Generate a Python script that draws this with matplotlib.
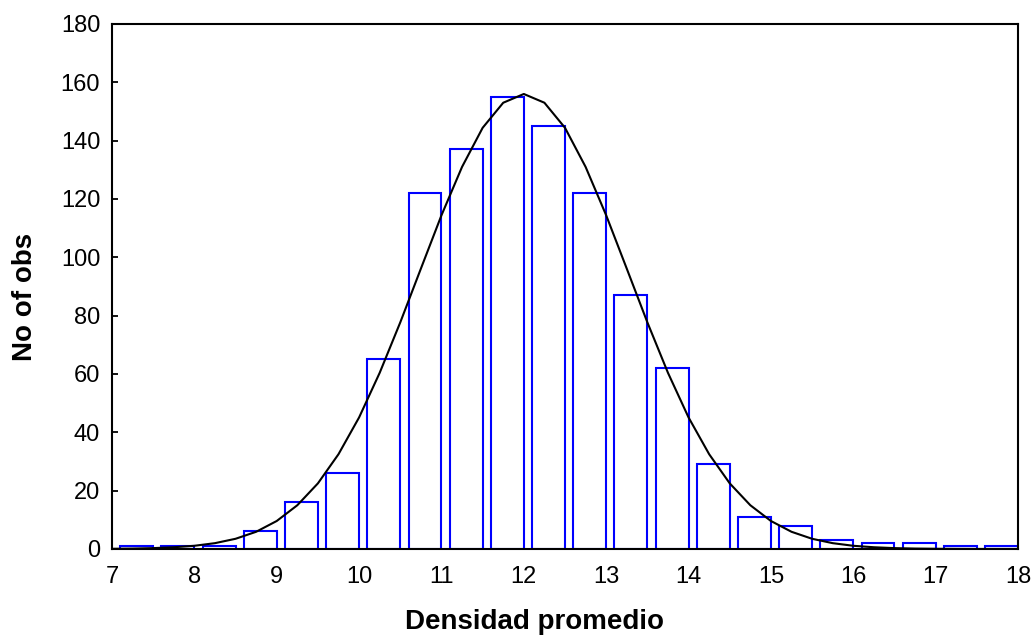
import numpy as np
import matplotlib.pyplot as plt

plt.rcParams['font.family'] = ['Liberation Sans', 'DejaVu Sans']

# Histogram bins (lower edges, width 0.5) and counts
bin_start = [7.0, 7.5, 8.0, 8.5, 9.0, 9.5, 10.0, 10.5, 11.0, 11.5, 12.0,
             12.5, 13.0, 13.5, 14.0, 14.5, 15.0, 15.5, 16.0, 16.5, 17.0, 17.5]
counts = [1, 1, 1, 6, 16, 26, 65, 122, 137, 155, 145,
          122, 87, 62, 29, 11, 8, 3, 2, 2, 1, 1]

# Fitted normal curve
curve_x = [7.0, 7.25, 7.5, 7.75, 8.0, 8.25, 8.5, 8.75, 9.0, 9.25, 9.5, 9.75,
           10.0, 10.25, 10.5, 10.75, 11.0, 11.25, 11.5, 11.75, 12.0, 12.25,
           12.5, 12.75, 13.0, 13.25, 13.5, 13.75, 14.0, 14.25, 14.5, 14.75,
           15.0, 15.25, 15.5, 15.75, 16.0, 16.25, 16.5, 16.75, 17.0, 17.25,
           17.5, 17.75, 18.0]
curve_y = [0.07, 0.14, 0.3, 0.6, 1.1, 2.0, 3.5, 5.9, 9.6, 15.0, 22.5, 32.5,
           45.1, 60.4, 77.7, 96.1, 114.4, 131.0, 144.4, 153.0, 156.0, 153.0,
           144.4, 131.0, 114.4, 96.1, 77.7, 60.4, 45.1, 32.5, 22.5, 15.0,
           9.6, 5.9, 3.5, 2.0, 1.1, 0.6, 0.3, 0.14, 0.07, 0.03, 0.01, 0.005, 0.002]

fig = plt.figure(figsize=(10.35, 6.36), dpi=100)
ax = fig.add_axes([0.1082, 0.1368, 0.8754, 0.8255])

ax.bar(np.array(bin_start) + 0.1, counts, width=0.4, align='edge',
       facecolor='white', edgecolor='#0000ff', linewidth=1.5, zorder=2)
ax.plot(curve_x, curve_y, color='black', linewidth=1.5, zorder=3)

ax.set_xlim(7, 18)
ax.set_ylim(0, 180)
ax.set_xticks(range(7, 19))
ax.set_yticks(range(0, 181, 20))
ax.tick_params(axis='x', length=0, labelsize=17, pad=12.5)
ax.tick_params(axis='y', direction='in', length=4, width=1.3, labelsize=17, pad=8.5)
for s in ax.spines.values():
    s.set_linewidth(1.5)

ax.set_xlabel('Densidad promedio', fontsize=20, fontweight='bold', labelpad=15)
ax.xaxis.label.set_x(0.466)
ax.set_ylabel('No of obs', fontsize=20, fontweight='bold', labelpad=16)
ax.yaxis.label.set_y(0.481)

fig.savefig('out.png', dpi=100)
